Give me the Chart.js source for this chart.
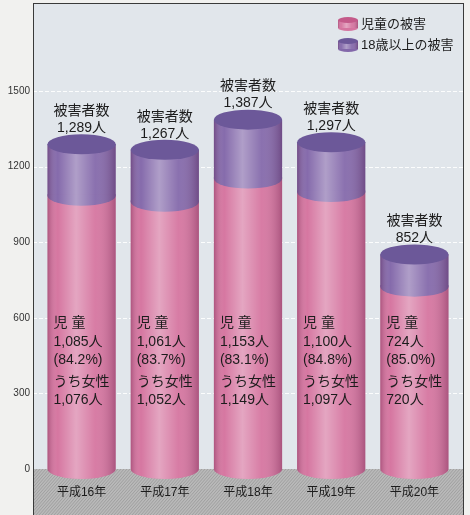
<!DOCTYPE html>
<html lang="ja">
<head>
    <meta charset="UTF-8">
    <title>児童の被害と18歳以上の被害</title>
    <script src="https://cdn.jsdelivr.net/npm/chart.js"></script>
    <style>
        body, html {
            margin: 0;
            padding: 0;
            background: #f1f1ef;
            font-family: "Liberation Sans", "Noto Sans CJK JP", sans-serif;
        }
        #wrap {
            width: 470px;
            height: 515px;
            position: relative;
        }
    </style>
</head>
<body>
    <div id="wrap"><canvas id="victimChart"></canvas></div>

    <script>
        const years = ['平成16年', '平成17年', '平成18年', '平成19年', '平成20年'];
        const childVictims = [1085, 1061, 1153, 1100, 724];
        const adultVictims = [204, 206, 234, 197, 128];
        const totalVictims = [1289, 1267, 1387, 1297, 852];
        const childShare = ['84.2', '83.7', '83.1', '84.8', '85.0'];
        const femaleChild = [1076, 1052, 1149, 1097, 720];
        const yTicks = [0, 300, 600, 900, 1200, 1500];

        const PINK = '#d5749f';
        const PURPLE = '#8368aa';
        const CAP = '#6c5899';
        const FONT = '"Liberation Sans", "Noto Sans CJK JP", sans-serif';

        const fmt = n => n.toLocaleString('en-US');

        function shade(ctx, left, w) {
            const g = ctx.createLinearGradient(left, 0, left + w, 0);
            g.addColorStop(0, 'rgba(70,0,40,0.28)');
            g.addColorStop(0.15, 'rgba(255,255,255,0.02)');
            g.addColorStop(0.42, 'rgba(255,255,255,0.36)');
            g.addColorStop(0.7, 'rgba(255,255,255,0.06)');
            g.addColorStop(1, 'rgba(60,0,40,0.28)');
            return g;
        }

        // box, grid, ground
        const backdrop = {
            id: 'backdrop',
            beforeDraw(chart) {
                const { ctx, chartArea: a, scales: { y } } = chart;
                const L = a.left - 7, R = a.right + 7, B = chart.height;
                ctx.save();
                ctx.fillStyle = '#e1e6eb';
                ctx.fillRect(L, a.top, R - L, B - a.top);
                ctx.strokeStyle = 'rgba(255,255,255,0.9)';
                ctx.lineWidth = 1;
                ctx.setLineDash([4, 2]);
                yTicks.forEach(v => {
                    if (v === 0) return;
                    const py = Math.round(y.getPixelForValue(v)) + 0.5;
                    ctx.beginPath(); ctx.moveTo(L, py); ctx.lineTo(R, py); ctx.stroke();
                });
                ctx.setLineDash([]);
                // ground
                ctx.fillStyle = '#b9b9b9';
                ctx.fillRect(L, a.bottom, R - L, B - a.bottom);
                ctx.beginPath();
                ctx.rect(L, a.bottom, R - L, B - a.bottom);
                ctx.clip();
                ctx.strokeStyle = 'rgba(150,150,150,0.7)';
                for (let x = L - 60; x < R + 60; x += 3) {
                    ctx.beginPath(); ctx.moveTo(x, B); ctx.lineTo(x + 40, a.bottom); ctx.stroke();
                }
                ctx.restore();
                ctx.save();
                ctx.strokeStyle = '#3a3a3a';
                ctx.lineWidth = 1;
                ctx.strokeRect(Math.round(L) + 0.5, Math.round(a.top) + 0.5, Math.round(R - L), B);
                ctx.restore();
            }
        };

        // cylinders, labels, legend
        const cylinders = {
            id: 'cylinders',
            afterDatasetsDraw(chart) {
                const { ctx, chartArea: a, scales: { y } } = chart;
                const low = chart.getDatasetMeta(0).data;
                const up = chart.getDatasetMeta(1).data;
                ctx.save();
                low.forEach((el, i) => {
                    const x = el.x, w = el.width, left = x - w / 2, rx = w / 2, ry = 10;
                    const base = el.base, mid = el.y, top = up[i].y;
                    ctx.fillStyle = PINK;
                    ctx.beginPath(); ctx.ellipse(x, base, rx, ry, 0, 0, Math.PI); ctx.fill();
                    ctx.fillStyle = PURPLE;
                    ctx.fillRect(left, mid - 1.5, w, 2);
                    ctx.beginPath(); ctx.ellipse(x, mid, rx, ry, 0, 0, Math.PI); ctx.fill();
                    ctx.fillStyle = shade(ctx, left, w);
                    ctx.beginPath();
                    ctx.moveTo(left, top);
                    ctx.lineTo(left, base);
                    ctx.ellipse(x, base, rx, ry, 0, Math.PI, 0, true);
                    ctx.lineTo(left + w, top);
                    ctx.closePath();
                    ctx.fill();
                    ctx.fillStyle = CAP;
                    ctx.beginPath(); ctx.ellipse(x, top, rx, ry, 0, 0, Math.PI * 2); ctx.fill();

                    ctx.fillStyle = '#1c1c1c';
                    ctx.font = '14px ' + FONT;
                    ctx.textAlign = 'center';
                    ctx.textBaseline = 'middle';
                    ctx.fillText('被害者数', x, top - 33);
                    ctx.fillText(fmt(totalVictims[i]) + '人', x, top - 16);

                    ctx.textAlign = 'left';
                    const t = y.getPixelForValue(580), tx = left + 6;
                    ctx.fillText('児 童', tx, t);
                    ctx.fillText(fmt(childVictims[i]) + '人', tx, t + 19);
                    ctx.fillText('(' + childShare[i] + '%)', tx, t + 37);
                    ctx.fillText('うち女性', tx, t + 59);
                    ctx.fillText(fmt(femaleChild[i]) + '人', tx, t + 77);
                });

                // legend
                chart.data.datasets.forEach((ds, k) => {
                    const ix = a.right - 118, iy = 17 + k * 21, iw = 20, ih = 14;
                    ctx.fillStyle = ds.backgroundColor;
                    ctx.fillRect(ix, iy + 3, iw, ih - 6);
                    ctx.beginPath(); ctx.ellipse(ix + iw / 2, iy + ih - 3, iw / 2, 3, 0, 0, Math.PI); ctx.fill();
                    ctx.fillStyle = shade(ctx, ix, iw);
                    ctx.fillRect(ix, iy + 3, iw, ih - 6);
                    ctx.fillStyle = k === 0 ? '#c45a8a' : CAP;
                    ctx.beginPath(); ctx.ellipse(ix + iw / 2, iy + 3, iw / 2, 3, 0, 0, Math.PI * 2); ctx.fill();
                    ctx.fillStyle = '#1c1c1c';
                    ctx.font = '13px ' + FONT;
                    ctx.textAlign = 'left';
                    ctx.textBaseline = 'middle';
                    ctx.fillText(ds.label, ix + iw + 3, iy + 7);
                });
                ctx.restore();
            }
        };

        new Chart(document.getElementById('victimChart'), {
            type: 'bar',
            data: {
                labels: years,
                datasets: [
                    { label: '児童の被害', data: childVictims, backgroundColor: PINK, borderWidth: 0 },
                    { label: '18歳以上の被害', data: adultVictims, backgroundColor: PURPLE, borderWidth: 0 }
                ]
            },
            options: {
                responsive: true,
                maintainAspectRatio: false,
                animation: false,
                layout: { padding: { top: 3, right: 14, left: 0, bottom: 0 } },
                categoryPercentage: 1,
                barPercentage: 0.82,
                scales: {
                    x: {
                        stacked: true,
                        grid: { display: false, drawTicks: false },
                        border: { display: false },
                        ticks: { color: '#1c1c1c', padding: 16, font: { size: 12, family: FONT } },
                        afterFit: s => { s.height = 46; s.paddingLeft = 0; s.paddingRight = 0; }
                    },
                    y: {
                        stacked: true,
                        min: 0,
                        max: 1850,
                        afterBuildTicks: s => { s.ticks = yTicks.map(v => ({ value: v })); },
                        grid: { display: false, drawTicks: false },
                        border: { display: false },
                        ticks: {
                            color: '#333', padding: 10, font: { size: 10, family: FONT },
                            callback: v => String(v)
                        },
                        afterFit: s => { s.width = 40; s.paddingTop = 0; s.paddingBottom = 0; }
                    }
                },
                plugins: {
                    legend: { display: false },
                    tooltip: { enabled: false }
                }
            },
            plugins: [backdrop, cylinders]
        });
    </script>
</body>
</html>
